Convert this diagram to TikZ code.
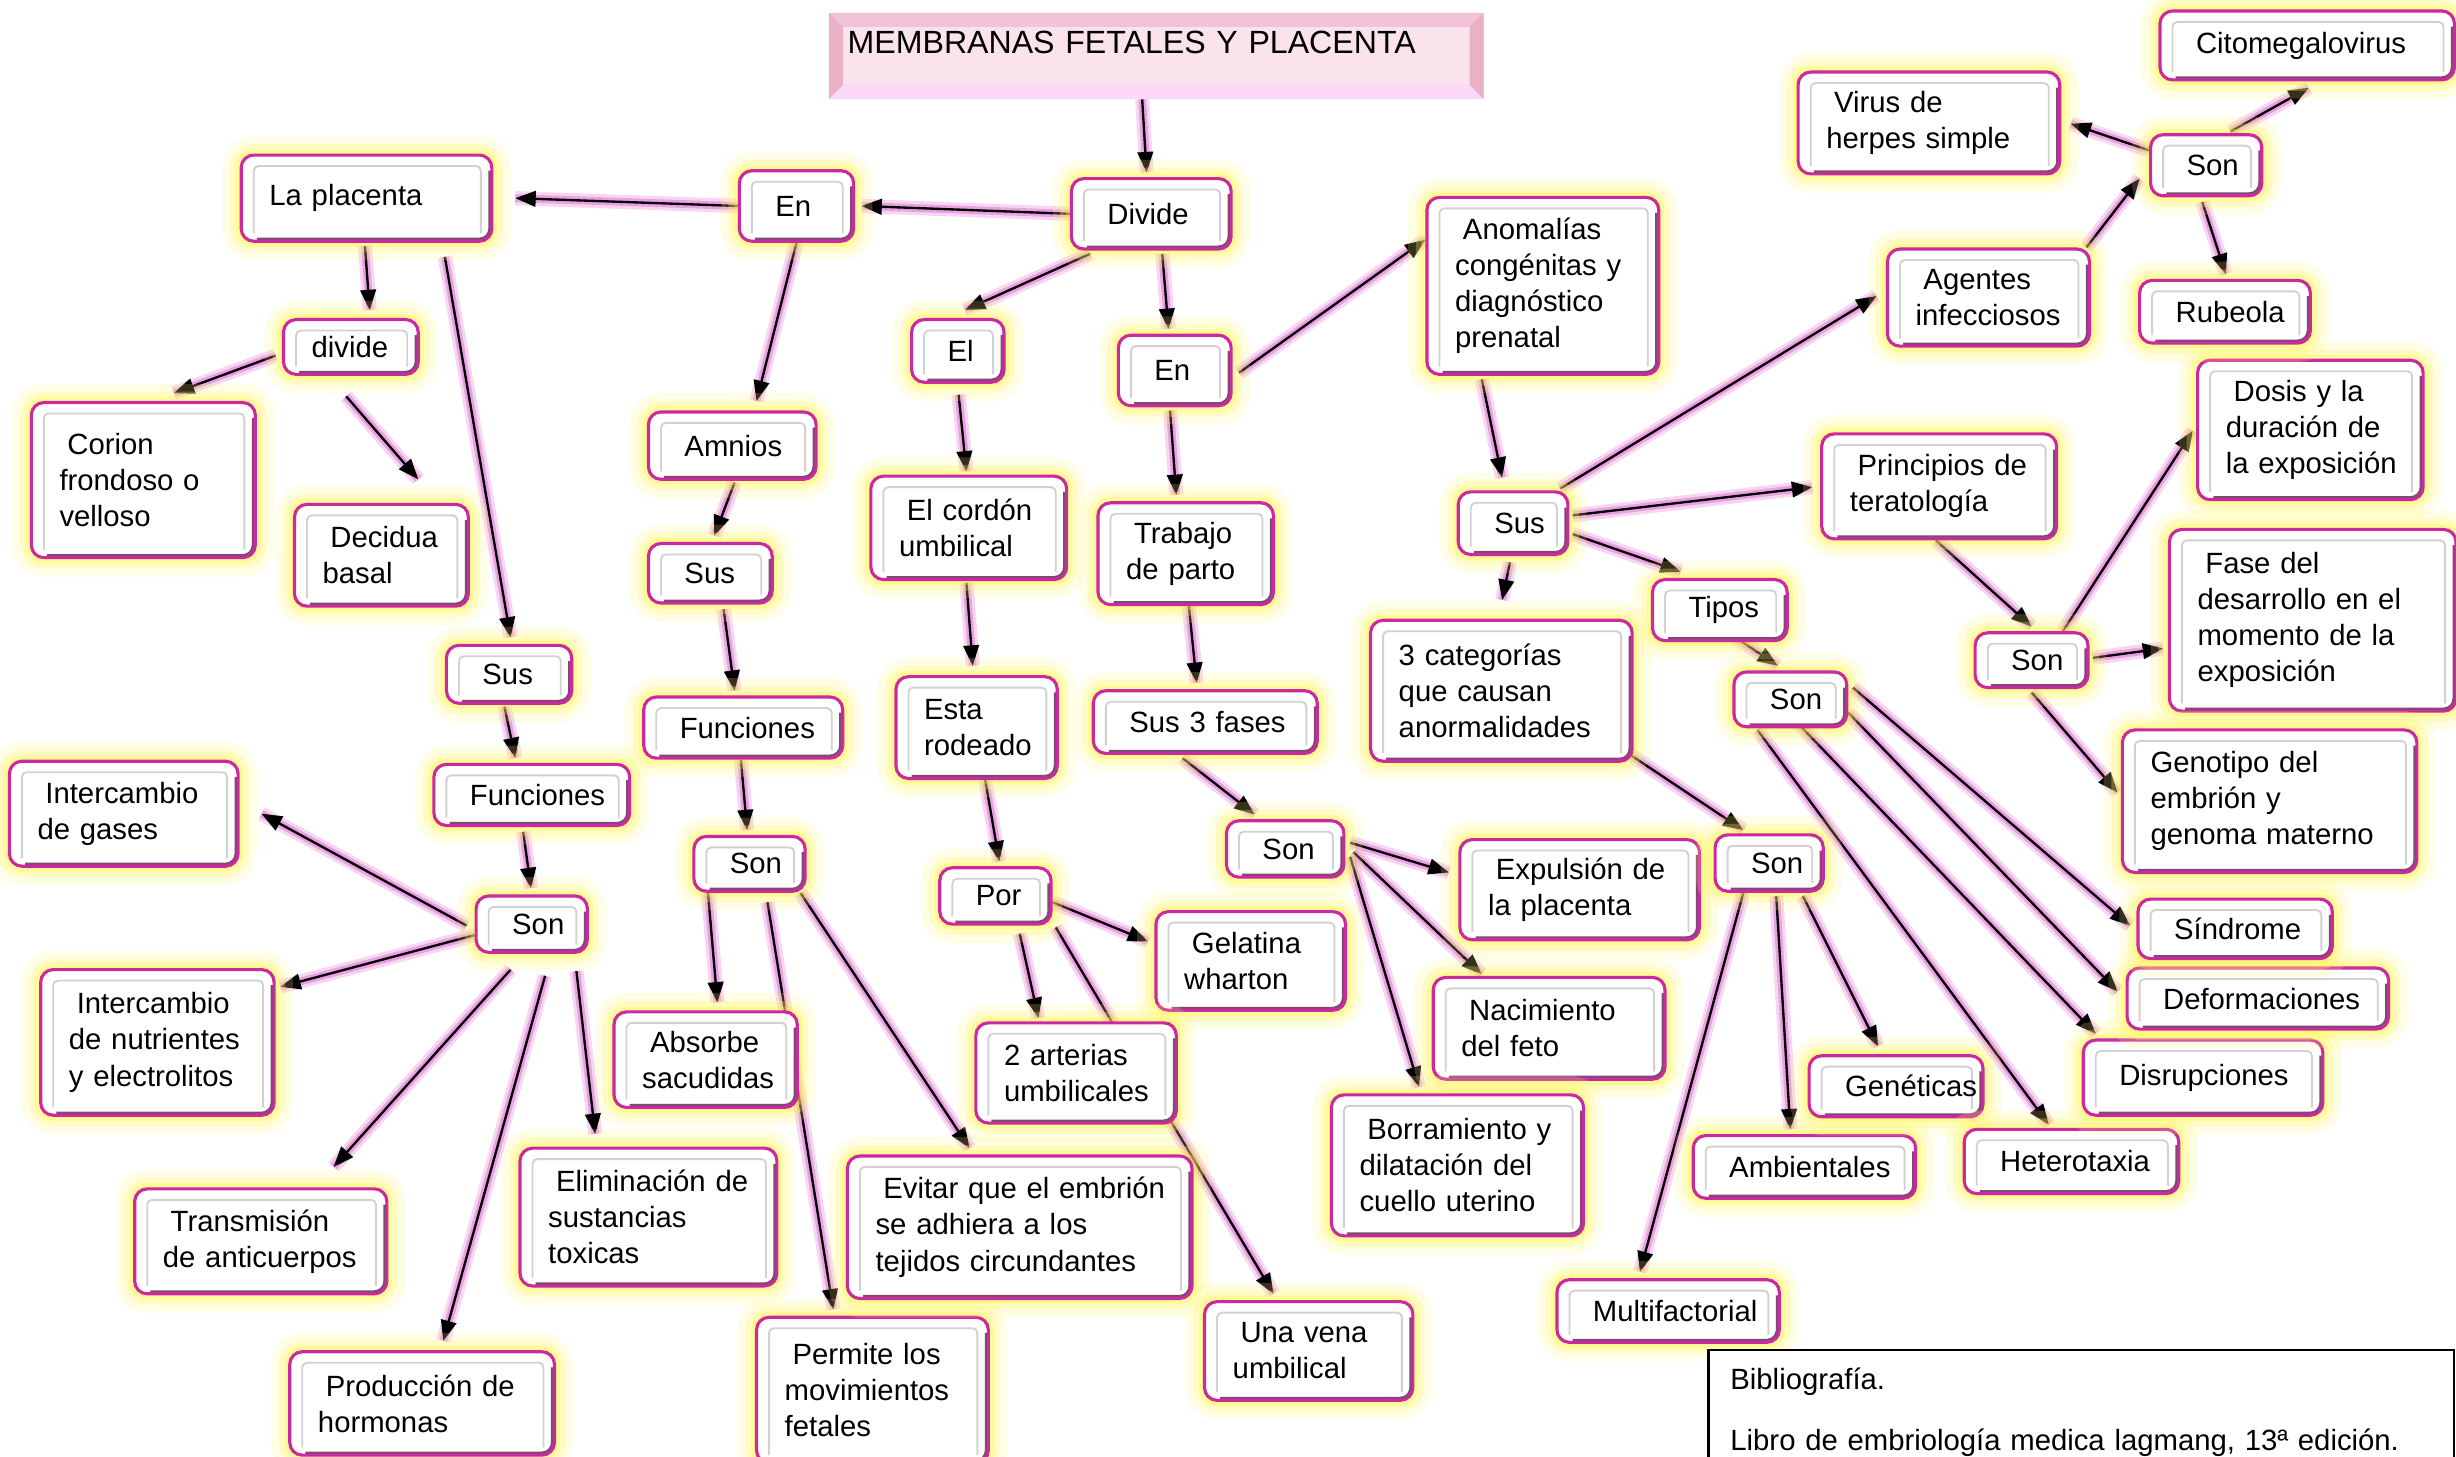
\documentclass[tikz,border=0pt]{standalone}
\usepackage{fontspec}
\setmainfont{Liberation Sans}
\usetikzlibrary{arrows.meta,backgrounds}
\definecolor{boxline}{RGB}{204,40,160}
\definecolor{boxshade}{RGB}{80,15,70}
\definecolor{glowpink}{RGB}{222,95,205}
\definecolor{titlefill}{RGB}{250,227,236}
\definecolor{titletop}{RGB}{242,194,214}
\definecolor{titleside}{RGB}{234,176,198}
\definecolor{titlebot}{RGB}{252,216,246}
\newcommand{\ind}{\kern5pt}
\tikzstyle{concept}=[anchor=north west,draw=boxline,line width=2pt,fill=white,rounded corners=8pt,
  inner xsep=0pt,inner ysep=3pt,align=left,font=\fontsize{18.7}{23}\selectfont,
  execute at begin node={\leftskip=18pt},
  preaction={draw=yellow!50,draw opacity=0.2,line width=24pt},
  preaction={draw=yellow!60,draw opacity=0.28,line width=14pt},
  preaction={draw=yellow!80,draw opacity=0.3,line width=7pt},
  path picture={\draw[black!18,line width=1.2pt,rounded corners=3pt]
    ([shift={(8pt,5pt)}]path picture bounding box.south west) |- ([shift={(-7pt,-7pt)}]path picture bounding box.north east)
    -- ([shift={(-7pt,5pt)}]path picture bounding box.south east);
    \draw[boxshade,draw opacity=0.75,line width=4.5pt,rounded corners=8pt]
    ([yshift=-10pt]path picture bounding box.north east) -- (path picture bounding box.south east)
    -- ([xshift=10pt]path picture bounding box.south west);}]
\tikzstyle{link}=[-{Triangle[length=13pt,width=10pt]},line width=1.5pt,black,
  preaction={draw=glowpink,draw opacity=0.25,line width=9pt,-},
  preaction={draw=glowpink,draw opacity=0.45,line width=5pt,-}]
\tikzstyle{titlebox}=[anchor=north west,fill=titlefill,inner xsep=0pt,inner ysep=0pt,
  align=left,font=\fontsize{20.5}{24}\selectfont,execute at begin node={\leftskip=12pt},
  text width=418pt,minimum height=55pt,text depth=17pt,
  path picture={
    \fill[titletop] (path picture bounding box.north west) -- (path picture bounding box.north east)
      -- ([shift={(-9pt,-9pt)}]path picture bounding box.north east) -- ([shift={(9pt,-9pt)}]path picture bounding box.north west) -- cycle;
    \fill[titlebot] (path picture bounding box.south west) -- (path picture bounding box.south east)
      -- ([shift={(-9pt,9pt)}]path picture bounding box.south east) -- ([shift={(9pt,9pt)}]path picture bounding box.south west) -- cycle;
    \fill[titleside] (path picture bounding box.north west) -- ([shift={(9pt,-9pt)}]path picture bounding box.north west)
      -- ([shift={(9pt,9pt)}]path picture bounding box.south west) -- (path picture bounding box.south west) -- cycle;
    \fill[titleside] (path picture bounding box.north east) -- ([shift={(-9pt,-9pt)}]path picture bounding box.north east)
      -- ([shift={(-9pt,9pt)}]path picture bounding box.south east) -- (path picture bounding box.south east) -- cycle;}]
\tikzstyle{refbox}=[anchor=north west,draw=black,line width=1.5pt,fill=white,inner xsep=0pt,inner ysep=3pt,
  align=left,font=\fontsize{18.7}{23}\selectfont,execute at begin node={\leftskip=14pt}]
\tikzset{wh/.style 2 args={text width=#1pt,minimum height=#2pt}}

\begin{document}
\begin{tikzpicture}[x=1pt,y=-1pt]
    \useasboundingbox (0,0) rectangle (1568,930);
    \node[titlebox] (title) at (529,8) {MEMBRANAS FETALES Y PLACENTA};
    % placenta branch
    \node[concept,wh={102}{45}] (divide) at (683,113) {\ind Divide};
    \node[concept,wh={73}{45}] (enA) at (471,108) {\ind En};
    \node[concept,wh={160}{55}] (placenta) at (153,98) {La placenta};
    \node[concept,wh={86}{35}] (divideB) at (180,203) {divide};
    \node[concept,wh={143}{99}] (corion) at (19,256) {\ind Corion\\frondoso o\\velloso};
    \node[concept,wh={111}{65}] (decidua) at (187,321) {\ind Decidua\\basal};
    \node[concept,wh={80}{37}] (susA) at (284,411) {\ind Sus};
    \node[concept,wh={125}{39}] (funcA) at (276,487) {\ind Funciones};
    \node[concept,wh={71}{36}] (sonA) at (303,571) {\ind Son};
    \node[concept,wh={146}{67}] (gases) at (5,485) {\ind Intercambio\\de gases};
    \node[concept,wh={149}{93}] (nutri) at (25,618) {\ind Intercambio\\de nutrientes\\y electrolitos};
    \node[concept,wh={161}{67}] (anticu) at (85,758) {\ind Transmisión\\de anticuerpos};
    \node[concept,wh={169}{66}] (hormo) at (184,862) {\ind Producción de\\hormonas};
    \node[concept,wh={164}{88}] (elimin) at (331,732) {\ind Eliminación de\\sustancias\\toxicas};
    % amnios branch
    \node[concept,wh={107}{43}] (amnios) at (413,262) {\ind Amnios};
    \node[concept,wh={79}{38}] (susB) at (413,346) {\ind Sus};
    \node[concept,wh={127}{39}] (funcB) at (410,444) {\ind Funciones};
    \node[concept,wh={71}{35}] (sonB) at (442,533) {\ind Son};
    \node[concept,wh={117}{61}] (absorbe) at (391,645) {\ind Absorbe\\sacudidas};
    \node[concept,wh={148}{93}] (permite) at (482,840) {\ind Permite los\\movimientos\\fetales};
    \node[concept,wh={220}{91}] (evitar) at (540,737) {\ind Evitar que el embrión\\se adhiera a los\\tejidos circundantes};
    % cordon branch
    \node[concept,wh={59}{40}] (el) at (581,203) {\ind El};
    \node[concept,wh={125}{66}] (cordon) at (555,303) {\ind El cordón\\umbilical};
    \node[concept,wh={103}{65}] (rodeado) at (571,431) {Esta\\rodeado};
    \node[concept,wh={71}{36}] (por) at (599,553) {\ind Por};
    \node[concept,wh={121}{63}] (gelat) at (737,581) {\ind Gelatina\\wharton};
    \node[concept,wh={128}{64}] (arter) at (622,652) {2 arterias\\umbilicales};
    \node[concept,wh={133}{63}] (vena) at (768,830) {\ind Una vena\\umbilical};
    % parto branch
    \node[concept,wh={72}{45}] (enB) at (713,213) {\ind En};
    \node[concept,wh={112}{65}] (trabajo) at (700,320) {\ind Trabajo\\de parto};
    \node[concept,wh={143}{40}] (fases) at (697,440) {\ind Sus 3 fases};
    \node[concept,wh={75}{36}] (sonC) at (782,523) {\ind Son};
    \node[concept,wh={153}{64}] (expul) at (931,535) {\ind Expulsión de\\la placenta};
    \node[concept,wh={148}{65}] (nacim) at (914,623) {\ind Nacimiento\\del feto};
    \node[concept,wh={161}{90}] (borra) at (849,698) {\ind Borramiento y\\dilatación del\\cuello uterino};
    % anomalias branch
    \node[concept,wh={148}{113}] (anom) at (910,125) {\ind Anomalías\\congénitas y\\diagnóstico\\prenatal};
    \node[concept,wh={70}{40}] (susC) at (930,313) {\ind Sus};
    \node[concept,wh={167}{90}] (categ) at (874,395) {3 categorías\\que causan\\anormalidades};
    \node[concept,wh={69}{36}] (sonD) at (1094,532) {\ind Son};
    \node[concept,wh={142}{40}] (multi) at (993,816) {\ind Multifactorial};
    \node[concept,wh={142}{40}] (ambie) at (1080,724) {\ind Ambientales};
    \node[concept,wh={111}{39}] (genet) at (1154,673) {\ind Genéticas};
    \node[concept,wh={86}{39}] (tipos) at (1054,369) {\ind Tipos};
    \node[concept,wh={72}{35}] (sonE) at (1106,428) {\ind Son};
    \node[concept,wh={137}{41}] (hetero) at (1253,720) {\ind Heterotaxia};
    \node[concept,wh={153}{48}] (disrup) at (1329,663) {\ind Disrupciones};
    \node[concept,wh={167}{39}] (deform) at (1357,617) {\ind Deformaciones};
    \node[concept,wh={124}{38}] (sindro) at (1364,573) {\ind Síndrome};
    \node[concept,wh={150}{67}] (princ) at (1162,276) {\ind Principios de\\teratología};
    \node[concept,wh={72}{35}] (sonF) at (1260,403) {\ind Son};
    \node[concept,wh={144}{89}] (dosis) at (1402,229) {\ind Dosis y la\\duración de\\la exposición};
    \node[concept,wh={183}{116}] (fase) at (1384,337) {\ind Fase del\\desarrollo en el\\momento de la\\exposición};
    \node[concept,wh={188}{91}] (genot) at (1354,465) {Genotipo del\\embrión y\\genoma materno};
    \node[concept,wh={129}{62}] (agent) at (1204,158) {\ind Agentes\\infecciosos};
    \node[concept,wh={71}{39}] (sonG) at (1372,85) {\ind Son};
    \node[concept,wh={167}{65}] (virus) at (1147,45) {\ind Virus de\\herpes simple};
    \node[concept,wh={188}{44}] (citom) at (1378,6) {\ind Citomegalovirus};
    \node[concept,wh={109}{40}] (rubeo) at (1365,178) {\ind Rubeola};
    \node[refbox,text width=476pt,minimum height=80pt] (biblio) at (1090,861)
        {Bibliografía.\\[16pt]Libro de embriología medica lagmang, 13ª edición.};

    \begin{scope}[on background layer]
    \fill[white] (0,0) rectangle (1568,930);
    \foreach \a/\sx/\sy/\b/\ex/\ey in {
        title.south/-9/0/divide.north/-3/-3, divide.west/0/0/enA.east/4/0,
        enA.west/0/0/placenta.east/14/0, enA.south/0/0/amnios.north/15.5/-6,
        placenta.south/-1/2/divideB.north/12/-5, placenta.south/50/9/susA.north/1/-4,
        divideB.west/-4/5.5/corion.north/19.5/-5, divideB.south/-3/13/decidua.north/23.5/-15,
        susA.south/-3/1/funcA.north/-10.5/-3, funcA.south/-5.5/3/sonA.north/-0.5/-4,
        sonA.west/-5/1/gases.east/14/0, sonA.west/0/7/nutri.north east/3/12,
        sonA.south/-13.5/10/anticu.north/46.5/-13, sonA.south/8.5/14/hormo.north/13.5/-6,
        sonA.south/28.5/11/elimin.north/-34/-8,
        amnios.south/1.5/1/susB.north/2.5/-4, susB.south/8.5/3/funcB.north/-5.5/-3,
        funcB.south/-1.5/0/sonB.north/-1.5/-3, sonB.south/-26.5/0/absorbe.north/7.5/-5,
        sonB.south/11.5/6/permite.north/-25/-4, sonB.south/32.5/0/evitar.north/-32/-4,
        divide.south/-39/2/el.north/4.5/-5, el.south/0.5/7/cordon.north/-1.5/-2,
        cordon.south/-1.5/1/rodeado.north/-2.5/-6, rodeado.south/5.5/0/por.north/2.5/-3,
        por.east/0/4/gelat.west/-4/-12.5, por.south/15.5/5/arter.north/-24/-2,
        por.south east/2/1/vena.north/-22.5/-4,
        divide.south/7/2/enB.north/-4/-3, enB.south/-3/2/trabajo.north/-6/-4,
        enB.east/4/1.5/anom.west/0/-29.5, trabajo.south/2/0/fases.north/-5.5/-4,
        fases.south/-14.5/2/sonC.north/-19.5/-3, sonC.east/3/-4/expul.west/-6/-11,
        sonC.east/5/2/nacim.north/-43/-1, sonC.east/3/5/borra.north/-24.5/-4,
        anom.south/-39/2/susC.north/-7/-8, susC.south/-2/4/categ.north/0.5/-12,
        susC.north east/-6/-1/agent.west/-6/-1, susC.east/2/-5/princ.west/-5/0.5,
        susC.east/2/7/tipos.north/-25/-4, categ.south east/-5/-7/sonD.north/-16.5/-2,
        sonD.south/-16.5/0/multi.north/-18/-4, sonD.south/4.5/2/ambie.north/-9/-3,
        sonD.south/21.5/2/genet.north/-11.5/-5, tipos.south/10/-3/sonE.north/-8/-3,
        sonE.east/3/-7.5/sindro.west/-4/-2, sonE.east/0/8.5/deform.west/-5/-4.5,
        sonE.south/5/-3/disrup.north west/9/-3, sonE.south/-21/1/hetero.north/-14.5/-2,
        princ.south/-2/0/sonF.north/0/-3, sonF.north/20/0/dosis.west/-2/0.5,
        sonF.east/2/-1.5/fase.west/-3/18, sonF.south/0/2/genot.west/-2/-5.5,
        agent.north east/-3/0/sonG.west/-6/8.5, sonG.west/0/-9.5/virus.east/6/0.5,
        sonG.north/15.5/-1/citom.south/1/4, sonG.south/-2.5/3/rubeo.north/0.5/-3}
    \draw[link] ([shift={(\sx,\sy)}]\a) -- ([shift={(\ex,\ey)}]\b);
    \end{scope}
\end{tikzpicture}
\end{document}
